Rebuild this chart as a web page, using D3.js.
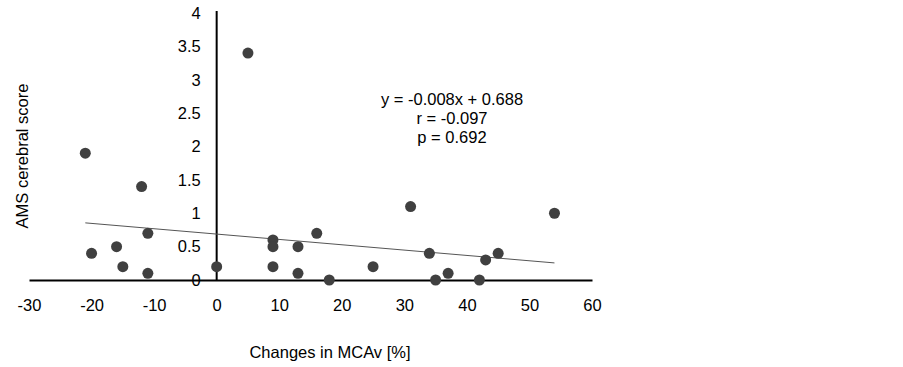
<!DOCTYPE html>
<html>
<head>
<meta charset="utf-8">
<script src="https://cdn.jsdelivr.net/npm/d3@7"></script>
<style>
  body { margin: 0; background: #fff; }
  svg text { font-family: "Liberation Sans", Arial, sans-serif; }
</style>
</head>
<body>
<svg id="chart"></svg>
<script>
// points (change in MCAv %, AMS cerebral score)
const mcaChange = [-21, -20, -16, -15, -12, -11, -11, 0, 5, 9, 9, 9, 13, 13, 16, 18, 25, 31, 34, 35, 37, 42, 43, 45, 54];
const amsScore  = [1.9, 0.4, 0.5, 0.2, 1.4, 0.7, 0.1, 0.2, 3.4, 0.6, 0.5, 0.2, 0.5, 0.1, 0.7, 0, 0.2, 1.1, 0.4, 0, 0.1, 0, 0.3, 0.4, 1.0];
const xTicks = [-30, -20, -10, 0, 10, 20, 30, 40, 50, 60];
const yTicks = [0, 0.5, 1, 1.5, 2, 2.5, 3, 3.5, 4];
const fitSlope = -0.008, fitIntercept = 0.688;
const statLines = ["y = -0.008x + 0.688", "r = -0.097", "p = 0.692"];

const width = 903, height = 367;
const fontSize = "16.5px";

const svg = d3.select("#chart").attr("width", width).attr("height", height);

const x = d3.scaleLinear().domain([-30, 60]).range([29, 592]);
const y = d3.scaleLinear().domain([0, 4]).range([280, 13]);

// x axis sits on y = 0 (plain hyphen for negatives, like the original)
const xAxis = svg.append("g")
  .attr("transform", `translate(0,${y(0)})`)
  .call(d3.axisBottom(x).tickValues(xTicks).tickFormat(d => String(d))
    .tickSize(0).tickSizeOuter(0).tickPadding(19));
xAxis.select(".domain").attr("stroke", "#000").attr("stroke-width", 2);
xAxis.selectAll("text").attr("font-size", fontSize).attr("fill", "#000")
  .attr("font-family", "Liberation Sans, Arial, sans-serif");

// y axis sits on x = 0
const yAxis = svg.append("g")
  .attr("transform", `translate(${x(0)},0)`)
  .call(d3.axisLeft(y).tickValues(yTicks).tickFormat(d => String(d))
    .tickSize(0).tickSizeOuter(0).tickPadding(16));
yAxis.select(".domain").attr("stroke", "#000").attr("stroke-width", 2)
  .attr("d", `M0,${y(0)}V${y(4) - 2}`);
yAxis.selectAll("text").attr("font-size", fontSize).attr("fill", "#000")
  .attr("font-family", "Liberation Sans, Arial, sans-serif");

// trend line over the data range
const [xMin, xMax] = d3.extent(mcaChange);
svg.append("line")
  .attr("x1", x(xMin)).attr("y1", y(fitSlope * xMin + fitIntercept))
  .attr("x2", x(xMax)).attr("y2", y(fitSlope * xMax + fitIntercept))
  .attr("stroke", "#555").attr("stroke-width", 1);

// dots
const points = mcaChange.map((v, i) => ({ x: v, y: amsScore[i] }));
svg.append("g").selectAll("circle")
  .data(points)
  .join("circle")
  .attr("cx", d => x(d.x))
  .attr("cy", d => y(d.y))
  .attr("r", 5.5)
  .attr("fill", "#404040");

// regression text
svg.append("g").selectAll("text")
  .data(statLines)
  .join("text")
  .attr("x", 452)
  .attr("y", (d, i) => 105 + i * 19)
  .attr("text-anchor", "middle")
  .attr("font-size", fontSize)
  .text(d => d);

// axis titles
svg.append("text")
  .attr("x", 330).attr("y", 358)
  .attr("text-anchor", "middle")
  .attr("font-size", fontSize)
  .text("Changes in MCAv [%]");

svg.append("text")
  .attr("transform", "translate(28,156) rotate(-90)")
  .attr("text-anchor", "middle")
  .attr("font-size", fontSize)
  .text("AMS cerebral score");
</script>
</body>
</html>
